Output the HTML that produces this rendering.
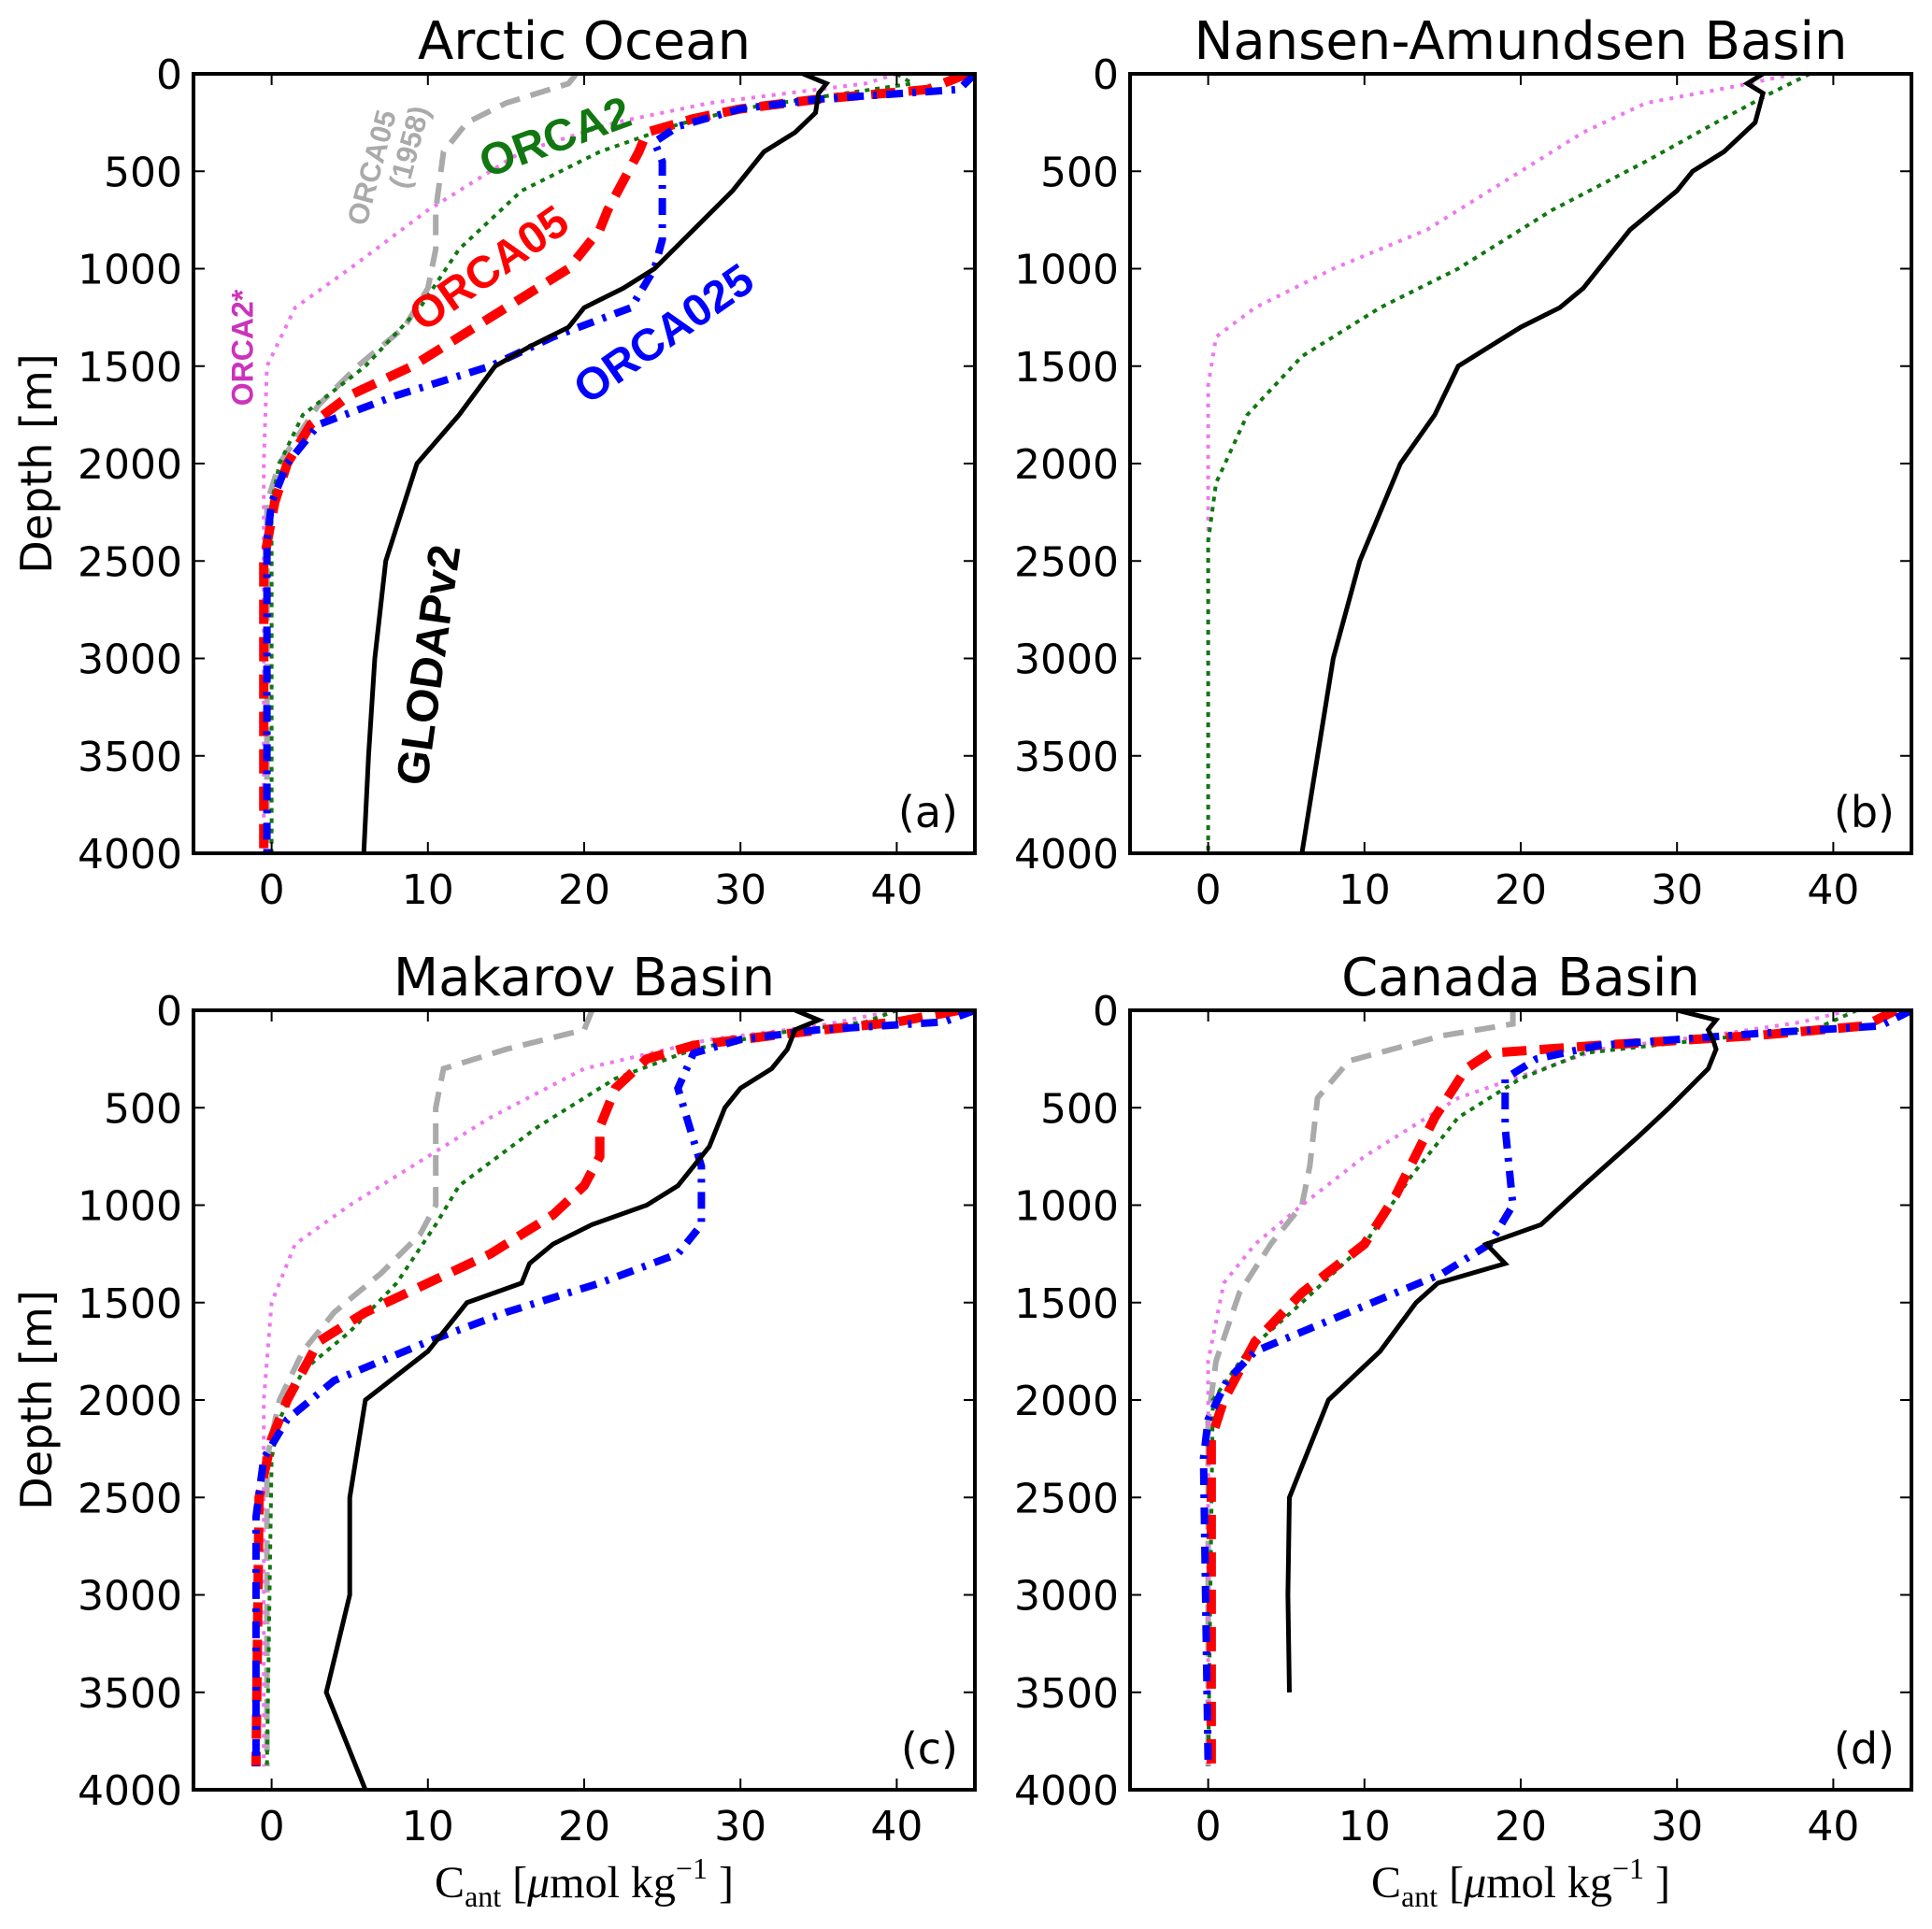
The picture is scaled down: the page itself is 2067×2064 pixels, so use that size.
<!DOCTYPE html>
<html><head><meta charset="utf-8">
<style>
html,body{margin:0;padding:0;background:#fff;}
svg{display:block;font-family:"DejaVu Sans","Liberation Sans",sans-serif;}
</style></head>
<body>
<svg id="chart" width="2067" height="2064" viewBox="0 0 2067 2064" xmlns="http://www.w3.org/2000/svg">
<g id="root"></g>
</svg>
<script>
// x ticks / y ticks
const xTicks = [0, 10, 20, 30, 40];
const yTicks = [0, 500, 1000, 1500, 2000, 2500, 3000, 3500, 4000];
const panelTitles = ["Arctic Ocean", "Nansen-Amundsen Basin", "Makarov Basin", "Canada Basin"];
const panelLetters = ["(a)", "(b)", "(c)", "(d)"];

// Panel (a) Arctic Ocean: [Cant, depth]
const a_glodap = [[34,0],[35.5,50],[35,100],[34.8,200],[33.5,300],[31.5,400],[29.5,600],[27,800],[24.5,1000],[22.5,1100],[20,1200],[19,1300],[16.5,1400],[14.3,1500],[12,1750],[9.3,2000],[7.3,2500],[6.6,3000],[6.2,3500],[5.9,4000]];
const a_orca05 = [[44.5,0],[42,80],[35,130],[30,180],[27,230],[24,300],[23.5,400],[21.5,700],[21,800],[19,1000],[17,1100],[13,1300],[9,1500],[5,1650],[2.5,1800],[1,2000],[0.2,2200],[-0.5,2500],[-0.5,4000]];
const a_orca025 = [[45,0],[44,80],[35,130],[30,180],[26,270],[24.5,350],[25,450],[25,850],[24.5,1000],[23,1200],[18,1350],[14,1500],[8,1650],[3,1800],[1,2000],[0,2200],[-0.3,2400],[-0.3,4000]];
const a_orca2 = [[40,0],[41,50],[35,120],[30,180],[26,260],[21,400],[16,600],[12,900],[9.5,1200],[6,1500],[2,1750],[0.5,2000],[0,2200],[0,4000]];
const a_orca2s = [[40,0],[38,50],[33,100],[28,150],[22,250],[16,400],[10,700],[5,1000],[1.5,1200],[-0.3,1500],[-0.5,2000],[-0.5,4000]];
const a_orca1958 = [[19.5,0],[19,50],[15,150],[12.5,250],[11,400],[10.5,700],[10.5,900],[10,1100],[8.5,1300],[5.5,1500],[3,1700],[0.5,2000],[-0.3,2200],[-0.3,4000]];

// Panel (b) Nansen-Amundsen
const b_glodap = [[35.5,0],[34.5,50],[35.5,100],[35,250],[33,400],[31,500],[30,600],[28.5,700],[27,800],[26,900],[25,1000],[24,1100],[22.5,1200],[20,1300],[18,1400],[16,1500],[14.5,1750],[12.3,2000],[9.7,2500],[8,3000],[7,3500],[6,4000]];
const b_orca2 = [[38.5,0],[36,100],[32.5,250],[28,450],[22,700],[16,1000],[11,1200],[6,1450],[2.5,1750],[0.5,2100],[0,2400],[0,4000]];
const b_orca2s = [[37.5,0],[34,60],[28,150],[24,300],[20,500],[14,800],[8,1000],[3,1200],[0.5,1350],[0,1600],[0,4000]];

// Panel (c) Makarov
const c_glodap = [[33.5,0],[35,50],[33.5,100],[33,200],[32,300],[30,400],[29,500],[28,700],[26,900],[24,1000],[20.5,1100],[18,1200],[16.5,1300],[16,1400],[12.5,1500],[10,1750],[6,2000],[5,2500],[5,3000],[3.5,3500],[6,4000]];
const c_orca05 = [[44,0],[40,60],[33,120],[27,180],[24,250],[22,400],[21,600],[21,750],[20,900],[18,1050],[14,1250],[10,1400],[6,1550],[3,1700],[1,2000],[0,2200],[-0.8,2500],[-1,3880]];
const c_orca025 = [[45,0],[43,60],[35,100],[30,150],[27,220],[26,400],[27.5,800],[27.5,1100],[26,1250],[21,1400],[15,1550],[10,1700],[4,1900],[1,2100],[-0.5,2300],[-1,2600],[-1,3880]];
const c_orca2 = [[40,0],[38,60],[32,120],[27,200],[22,350],[17,600],[12,900],[10.5,1100],[8,1400],[5,1650],[2,1850],[0.5,2100],[0,2300],[-0.3,3880]];
const c_orca2s = [[40,0],[35,80],[28,150],[20,300],[14,550],[9,800],[5,1000],[1.5,1200],[0,1500],[-0.5,2000],[-0.5,3880]];
const c_orca1958 = [[20.5,0],[20,100],[15,200],[11,300],[10.5,500],[10.5,700],[10.5,1000],[9.5,1150],[7,1350],[4,1550],[2,1750],[0.5,2000],[-0.3,2300],[-0.3,3880]];

// Panel (d) Canada
const d_glodap = [[30,0],[32.5,50],[32,100],[32.3,150],[32.5,200],[32,300],[29.5,500],[27.5,650],[24,900],[21.3,1100],[17.8,1200],[19,1300],[14.7,1400],[13.3,1500],[11,1750],[7.7,2000],[5.2,2500],[5.1,3000],[5.2,3500]];
const d_orca05 = [[44,0],[42,80],[35,130],[25,180],[18,220],[16.5,300],[14.5,550],[12,950],[10,1200],[6,1450],[3,1700],[1,2000],[0.2,2200],[0.2,3880]];
const d_orca025 = [[45,0],[43,80],[35,120],[25,180],[21,250],[19,350],[19,600],[19.5,1000],[18,1200],[15,1350],[9,1550],[3,1750],[1.2,1900],[0,2100],[-0.3,2300],[0,3880]];
const d_orca2 = [[41.5,0],[39,90],[33,140],[24,220],[20,350],[16,550],[13,850],[10,1200],[6,1500],[2.5,1750],[0.3,2000],[0,3880]];
const d_orca2s = [[41,0],[38,60],[33,120],[25,200],[16,450],[10,750],[6,1000],[3,1200],[1,1400],[0,1800],[0,3880]];
const d_orca1958 = [[19.5,0],[19.5,70],[15,130],[9,260],[7,450],[6.5,800],[6,1000],[4,1200],[2,1450],[0.5,1800],[0,2100],[0,3880]];

const NS = "http://www.w3.org/2000/svg";
const root = document.getElementById("root");
function mk(tag, attrs, parent){
  const e = document.createElementNS(NS, tag);
  for (const k in attrs) e.setAttribute(k, attrs[k]);
  (parent||root).appendChild(e);
  return e;
}
const styles = {
  orca1958: {stroke:"#aaaaaa", w:6, dash:"22 12"},
  orca2s:   {stroke:"#ee77ee", w:4, dash:"4 7"},
  orca2:    {stroke:"#117711", w:4, dash:"5 6"},
  orca05:   {stroke:"#ff0000", w:10, dash:"26 14"},
  orca025:  {stroke:"#0000ff", w:8, dash:"18 10 4 10"},
  glodap:   {stroke:"#000000", w:5, dash:""}
};
const panels = [
  {x0:207, y0:79, series:{orca1958:a_orca1958, orca2s:a_orca2s, orca2:a_orca2, orca05:a_orca05, orca025:a_orca025, glodap:a_glodap}, ylab:true, xlab:false},
  {x0:1209, y0:79, series:{orca2s:b_orca2s, orca2:b_orca2, glodap:b_glodap}, ylab:false, xlab:false},
  {x0:207, y0:1081, series:{orca1958:c_orca1958, orca2s:c_orca2s, orca2:c_orca2, orca05:c_orca05, orca025:c_orca025, glodap:c_glodap}, ylab:true, xlab:true},
  {x0:1209, y0:1081, series:{orca1958:d_orca1958, orca2s:d_orca2s, orca2:d_orca2, orca05:d_orca05, orca025:d_orca025, glodap:d_glodap}, ylab:false, xlab:true}
];
const W = 836, H = 834, XMIN = -5, XMAX = 45, YMAX = 4000;
panels.forEach((p, i) => {
  const sx = v => p.x0 + (v - XMIN) / (XMAX - XMIN) * W;
  const sy = v => p.y0 + v / YMAX * H;
  const g = mk("g", {});
  
  
  const cp = mk("clipPath", {id:"clip"+i}, g);
  mk("rect", {x:p.x0, y:p.y0, width:W, height:H}, cp);
  const lines = mk("g", {"clip-path":"url(#clip"+i+")"}, g);
  for (const key in p.series) {
    const st = styles[key];
    const d = p.series[key].map((pt, j) => (j ? "L" : "M") + sx(pt[0]).toFixed(1) + " " + sy(pt[1]).toFixed(1)).join(" ");
    const path = mk("path", {d:d, fill:"none", stroke:st.stroke, "stroke-width":st.w, "stroke-dasharray":st.dash, "stroke-linejoin":"miter"}, lines);
    
    
  }
  const frame = mk("rect", {x:p.x0, y:p.y0, width:W, height:H, fill:"none", stroke:"#000", "stroke-width":4}, g);
  
  
  xTicks.forEach(t => {
    const x = sx(t);
    mk("line", {x1:x, x2:x, y1:p.y0+H, y2:p.y0+H-12, stroke:"#000", "stroke-width":2}, g);
    mk("line", {x1:x, x2:x, y1:p.y0, y2:p.y0+12, stroke:"#000", "stroke-width":2}, g);
    const tx = mk("text", {x:x, y:p.y0+H+54, "font-size":44, "text-anchor":"middle"}, g);
    
    
    tx.textContent = t;
  });
  yTicks.forEach(t => {
    const y = sy(t);
    mk("line", {x1:p.x0, x2:p.x0+12, y1:y, y2:y, stroke:"#000", "stroke-width":2}, g);
    mk("line", {x1:p.x0+W, x2:p.x0+W-12, y1:y, y2:y, stroke:"#000", "stroke-width":2}, g);
    const ty = mk("text", {x:p.x0-12, y:y+16, "font-size":44, "text-anchor":"end"}, g);
    
    
    ty.textContent = t;
  });
  const title = mk("text", {x:p.x0+W/2, y:p.y0-16, "font-size":56, "text-anchor":"middle"}, g);
  
  
  title.textContent = panelTitles[i];
  const let_ = mk("text", {x:p.x0+W-18, y:p.y0+H-28, "font-size":46, "text-anchor":"end"}, g);
  
  
  let_.textContent = panelLetters[i];
  if (p.ylab) {
    const yl = mk("text", {x:0, y:0, "font-size":46, "text-anchor":"middle", transform:"translate(55,"+(p.y0+H/2)+") rotate(-90)"}, g);
    
    
    yl.textContent = "Depth [m]";
  }
  if (p.xlab) {
    const xl = mk("text", {x:p.x0+W/2, y:2030, "font-size":48, "text-anchor":"middle", "font-family":"'Liberation Serif',serif"}, g);
    
    
    xl.innerHTML = 'C<tspan font-size="32" dy="10">ant</tspan><tspan dy="-10"> [</tspan><tspan font-style="italic">μ</tspan>mol kg<tspan font-size="32" dy="-20">−1</tspan><tspan dy="20"> ]</tspan>';
  }
});
// In-plot labels (panel a)
const labels = [
  {t:"ORCA05", x:400, y:180, r:-75, c:"#aaaaaa", s:31},
  {t:"(1958)", x:440, y:158, r:-75, c:"#aaaaaa", s:31},
  {t:"ORCA2", x:595, y:150, r:-20, c:"#117711", s:48},
  {t:"ORCA05", x:525, y:290, r:-35, c:"#ff0000", s:48},
  {t:"ORCA025", x:712, y:360, r:-35, c:"#0000ff", s:48},
  {t:"ORCA2*", x:262, y:372, r:-90, c:"#cc33bb", s:32},
  {t:"GLODAPv2", x:462, y:712, r:-82, c:"#000000", s:48}
];
labels.forEach(L => {
  const e = mk("text", {x:0, y:0, "font-size":L.s, "font-weight":"bold", "font-family":"'Liberation Sans',sans-serif", fill:L.c, "text-anchor":"middle", "dominant-baseline":"middle", transform:"translate("+L.x+","+L.y+") rotate("+L.r+")"});
  
  
  e.textContent = L.t;
});
</script>
</body></html>
